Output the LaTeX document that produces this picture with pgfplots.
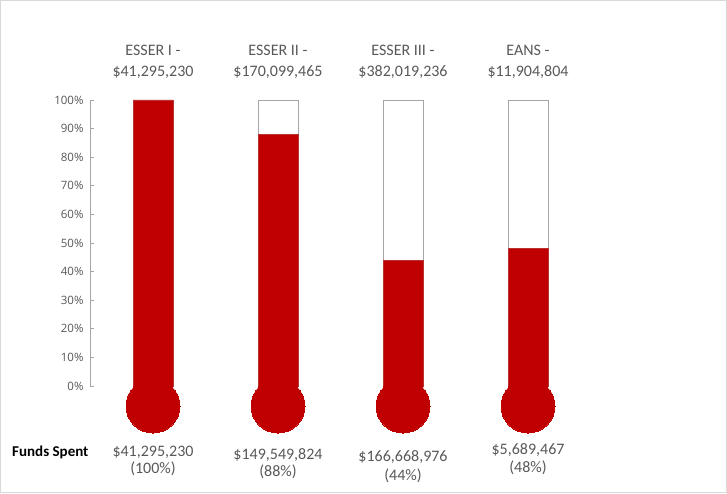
\documentclass[border=0pt]{standalone}
\usepackage{pgfplots}
\pgfplotsset{compat=1.18}
\usepackage{fontspec}
\setmainfont{Carlito}
\newfontfamily\tickfont{Open Sans}
\definecolor{barred}{HTML}{C00000}
\definecolor{txtgrey}{HTML}{595959}
\definecolor{linegrey}{HTML}{A6A6A6}
\definecolor{frame}{HTML}{D9D9D9}
\begin{document}
\begin{tikzpicture}[x=1pt,y=1pt]
\path[use as bounding box] (0,0) rectangle (727,493);
\fill[white] (0,0) rectangle (727,493);
\draw[frame,line width=0.8pt] (0.5,0.5) rectangle (726.5,492.5);
\begin{axis}[
  at={(90pt,107pt)}, anchor=south west,
  scale only axis, width=500pt, height=286pt,
  xmin=0.496, xmax=4.496, ymin=0, ymax=100,
  clip=false,
  axis x line=none,
  axis y line*=left,
  y axis line style={linegrey, line width=0.8pt},
  ytick={0,10,...,100},
  ytick style={linegrey, line width=0.8pt},
  tick align=inside,
  major tick length=4pt,
  yticklabel={\pgfmathprintnumber{\tick}\%},
  yticklabel style={font=\tickfont\fontsize{11.5}{14}\selectfont, text=txtgrey, xshift=-3pt},
  /pgf/number format/assume math mode=true,
  ybar, bar width=40pt, bar shift=0pt,
]
\addplot[fill=white, draw=linegrey, line width=0.8pt] coordinates {(1,100) (2,100) (3,100) (4,100)};
\addplot[fill=barred, draw=barred!70!linegrey, line width=0.6pt] coordinates {(1,100) (2,88) (3,44) (4,48)};
\addplot[color=barred, only marks, mark=*, mark size=27pt, mark options={fill=barred, draw=barred, line width=0pt}, forget plot] coordinates {(1,-7) (2,-7) (3,-7) (4,-7)};
\end{axis}
% titles
\begin{scope}[every node/.style={text=txtgrey, font=\fontsize{16}{19}\selectfont, inner sep=0pt}]
\node at (153,443) {ESSER I -};
\node at (153,421) {\$41,295,230};
\node at (278,443) {ESSER II -};
\node at (278,421) {\$170,099,465};
\node at (403,443) {ESSER III -};
\node at (403,421) {\$382,019,236};
\node at (528,443) {EANS -};
\node at (528,421) {\$11,904,804};
% bottom labels
\node at (153,41) {\$41,295,230};
\node at (153,24) {(100\%)};
\node at (278,38) {\$149,549,824};
\node at (278,21) {(88\%)};
\node at (403,36) {\$166,668,976};
\node at (403,17) {(44\%)};
\node at (528,43) {\$5,689,467};
\node at (528,25) {(48\%)};
\end{scope}
\node[font=\bfseries\fontsize{15}{17}\selectfont, anchor=west, inner sep=0pt] at (12,41) {Funds Spent};
\end{tikzpicture}
\end{document}
